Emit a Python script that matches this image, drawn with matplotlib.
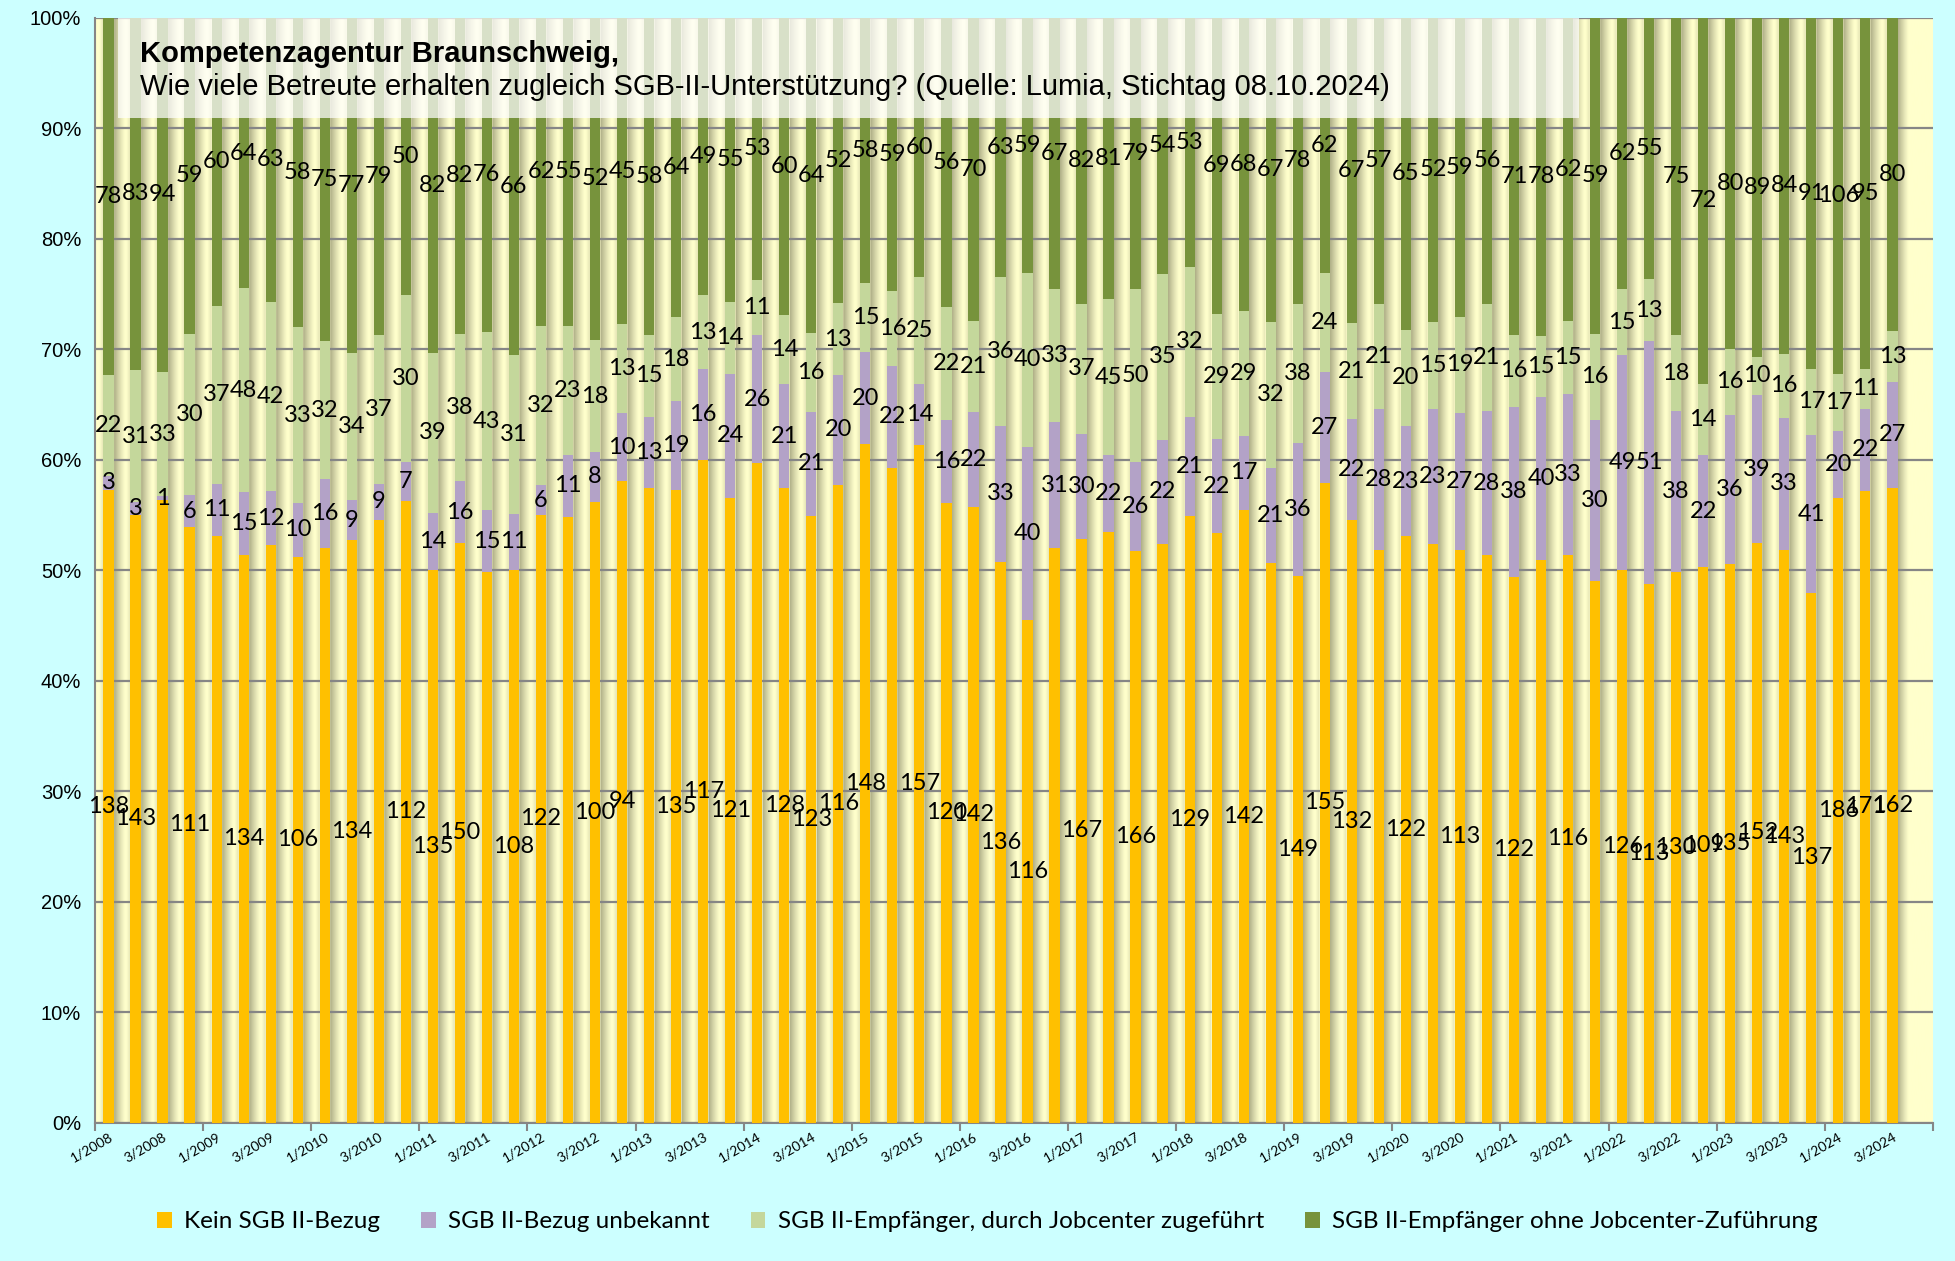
import numpy as np
import matplotlib.pyplot as plt
from matplotlib.patches import Rectangle, Patch

# Quartale 1/2008 .. 4/2024 (letzter Platz ohne Daten)
quartale = [f"{q}/{j}" for j in range(2008, 2025) for q in (1, 2, 3, 4)]

kein = [138, 143, 165, 111, 122, 134, 128, 106, 133, 134,
        150, 112, 135, 150, 133, 108, 122, 108, 100, 94,
        116, 135, 117, 121, 133, 128, 123, 116, 148, 141,
        157, 120, 142, 136, 116, 142, 167, 170, 166, 122,
        129, 137, 142, 123, 149, 155, 132, 114, 122, 99,
        113, 111, 122, 138, 116, 101, 126, 113, 130, 109,
        135, 152, 143, 137, 186, 171, 162]
unbekannt = [3, 3, 1, 6, 11, 15, 12, 10, 16, 9,
             9, 7, 14, 16, 15, 11, 6, 11, 8, 10,
             13, 19, 16, 24, 26, 21, 21, 20, 20, 22,
             14, 16, 22, 33, 40, 31, 30, 22, 26, 22,
             21, 22, 17, 21, 36, 27, 22, 28, 23, 23,
             27, 28, 38, 40, 33, 30, 49, 51, 38, 22,
             36, 39, 33, 41, 20, 22, 27]
zugefuehrt = [22, 31, 33, 30, 37, 48, 42, 33, 32, 34,
              37, 30, 39, 38, 43, 31, 32, 23, 18, 13,
              15, 18, 13, 14, 11, 14, 16, 13, 15, 16,
              25, 22, 21, 36, 40, 33, 37, 45, 50, 35,
              32, 29, 29, 32, 38, 24, 21, 21, 20, 15,
              19, 21, 16, 15, 15, 16, 15, 13, 18, 14,
              16, 10, 16, 17, 17, 11, 13]
ohne = [78, 83, 94, 59, 60, 64, 63, 58, 75, 77,
        79, 50, 82, 82, 76, 66, 62, 55, 52, 45,
        58, 64, 49, 55, 53, 60, 64, 52, 58, 59,
        60, 56, 70, 63, 59, 67, 82, 81, 79, 54,
        53, 69, 68, 67, 78, 62, 67, 57, 65, 52,
        59, 56, 71, 78, 62, 59, 62, 55, 75, 72,
        80, 89, 84, 91, 106, 95, 80]
# bei diesen Balken fehlt im Original die Beschriftung von "Kein SGB II-Bezug"
kein_ohne_label = [2, 4, 6, 8, 10, 14, 17, 20, 24, 29, 35, 37, 39, 41, 43, 47, 49, 51, 53, 55]

serien = ["Kein SGB II-Bezug", "SGB II-Bezug unbekannt",
          "SGB II-Empfänger, durch Jobcenter zugeführt",
          "SGB II-Empfänger ohne Jobcenter-Zuführung"]
farben = ["#FFC000", "#B3A2C7", "#C4D79B", "#77933C"]

werte = np.array([kein, unbekannt, zugefuehrt, ohne], dtype=float)
anteil = werte / werte.sum(axis=0) * 100
n = werte.shape[1]
x = np.arange(n)
bw = 0.38
xmax = len(quartale) - 0.5

fig = plt.figure(figsize=(19.55, 12.61), dpi=100, facecolor="#CCFFFF")
ax = fig.add_axes([0.0486, 0.1098, 0.9401, 0.8763])

# Schatten der Balken als Streifen im Hintergrund
xs = np.linspace(-0.5, xmax, len(quartale) * 60)
s = np.zeros_like(xs)
for c in x:
    d = xs - (c + bw / 2)
    m = (d >= 0) & (d < 0.42)
    s[m] = np.maximum(s[m], 0.6 * (1 - d[m] / 0.42) ** 1.2)
    d = (c - bw / 2) - xs
    m = (d >= 0) & (d < 0.15)
    s[m] = np.maximum(s[m], 0.2 * (1 - d[m] / 0.15))
creme = np.array([1.0, 1.0, 0.8])
schatten = np.array([0.45, 0.45, 0.33])
img = creme[None, :] * (1 - s[:, None]) + schatten[None, :] * s[:, None]
ax.imshow(img[None, :, :], extent=[-0.5, xmax, 0, 100], aspect="auto",
          zorder=0, interpolation="bilinear")

ax.set_xlim(-0.5, xmax)
ax.set_ylim(0, 100)
ax.set_axisbelow(True)
ax.yaxis.grid(True, color="#868686", lw=1.6)

unten = np.zeros(n)
for i in range(4):
    ax.bar(x, anteil[i], bw, bottom=unten, color=farben[i], zorder=3)
    for k in range(n):
        if i == 0 and k in kein_ohne_label:
            continue
        ax.text(k, unten[k] + anteil[i][k] / 2, str(int(werte[i][k])),
                ha="center", va="center", fontsize=17,
                family=["Lato", "DejaVu Sans"], zorder=4)
    unten += anteil[i]

# Achsen
ax.set_yticks(range(0, 101, 10))
ax.set_yticklabels([f"{v}%" for v in range(0, 101, 10)],
                   family="Liberation Sans", fontsize=14.5)
ax.tick_params(axis="y", length=0, pad=10)
ax.set_xticks(range(0, n, 2))
ax.set_xticklabels(quartale[0:n:2], rotation=30, ha="right",
                   rotation_mode="anchor", family="Lato", fontsize=10)
ax.set_xticks(np.arange(-0.5, xmax + 0.1, 4), minor=True)
ax.tick_params(axis="x", which="major", length=0, pad=6)
ax.tick_params(axis="x", which="minor", length=6, color="#868686", width=1.5)
for sp in ["top", "right"]:
    ax.spines[sp].set_visible(False)
for sp in ["left", "bottom"]:
    ax.spines[sp].set_color("#868686")
    ax.spines[sp].set_linewidth(1.5)

# Titelkasten
ax.add_patch(Rectangle((0.0125, 0.909), 0.795, 0.091, transform=ax.transAxes,
                       facecolor="white", alpha=0.72, edgecolor="none", zorder=5))
ax.text(0.0245, 0.967, "Kompetenzagentur Braunschweig,", transform=ax.transAxes,
        fontsize=21, fontweight="bold", family="Liberation Sans",
        va="center", zorder=6)
ax.text(0.0245, 0.937,
        "Wie viele Betreute erhalten zugleich SGB-II-Unterstützung? "
        "(Quelle: Lumia, Stichtag 08.10.2024)",
        transform=ax.transAxes, fontsize=21, family="Liberation Sans",
        va="center", zorder=6)

handles = [Patch(facecolor=f, edgecolor="none") for f in farben]
fig.legend(handles, serien, loc="center", bbox_to_anchor=(0.505, 0.031), ncol=4,
           frameon=False, prop={"family": "Lato", "size": 17.5},
           handlelength=0.6, handleheight=0.6, handletextpad=0.5, columnspacing=1.7)

fig.savefig("out.png", dpi=100, facecolor=fig.get_facecolor())
